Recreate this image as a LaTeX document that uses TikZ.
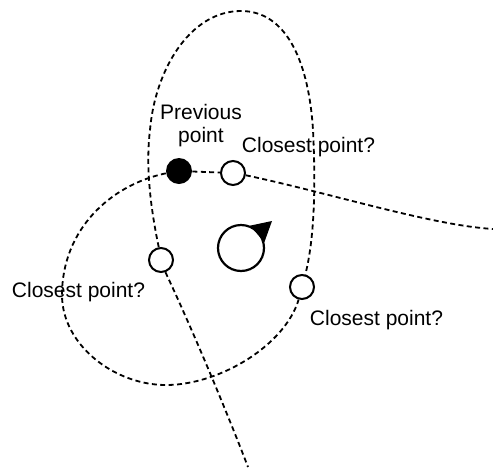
\documentclass[tikz,border=0pt]{standalone}
\usepackage{fontspec}
\setmainfont{Liberation Sans}
\usetikzlibrary{calc}

\begin{document}
\begin{tikzpicture}[x=0.5pt,y=-0.5pt,
    route/.style={black, line width=0.9pt, dash pattern=on 2.5pt off 1.7pt},
    candidate/.style={circle, draw, fill=white, line width=1pt, minimum size=12pt, inner sep=0pt},
    previous/.style={circle, fill=black, minimum size=13pt, inner sep=0pt},
    robotbody/.style={circle, draw, fill=white, line width=1.1pt, minimum size=23pt, inner sep=0pt},
    lbl/.style={font=\fontsize{10.5}{11.75}\selectfont, inner sep=0pt, align=center}]
    \useasboundingbox (0,0) rectangle (493,467);

    % Points on the routes
    \node[previous] (prev) at (179,171) {};
    \node[candidate] (cA) at (233,173) {};
    \node[candidate] (cB) at (161,260) {};
    \node[candidate] (cC) at (302,287) {};
    \coordinate (eA) at (493,229);
    \coordinate (eB) at (248,467);

    % Robot with heading
    \node[robotbody] (robot) at (241,248) {};
    \coordinate (tip) at (272,221);
    \fill (robot.68) -- (tip) -- (robot.14) -- cycle;

    % Routes
    \draw[route] (prev) -- (cA);
    \draw[route] (cA.-10) .. controls (330,193) and (430,225) .. (eA);
    \draw[route] (cB.-70) .. controls (195,335) and (230,420) .. (eB);

    % Tall loop
    \draw[route] (cB.100) .. controls (152,215) and (145,170) .. (150,130)
        .. controls (155,70) and (190,11) .. (241,11)
        .. controls (288,11) and (309,65) .. (313,130)
        .. controls (316,190) and (314,240) .. (cC.75);

    % Wide loop
    \draw[route] (prev.190) .. controls (110,185) and (62,230) .. (62,295)
        .. controls (62,345) and (115,386) .. (168,385)
        .. controls (221,384) and (285,345) .. (cC.-105);

    % Labels
    \node[lbl] (prevlbl) at (201,125.5) {Previous\\point};
    \node[lbl] (lblA) at (308.5,147.5) {Closest point?};
    \node[lbl] (lblB) at (78.5,292.5) {Closest point?};
    \node[lbl] (lblC) at (376.5,320) {Closest point?};
\end{tikzpicture}
\end{document}
